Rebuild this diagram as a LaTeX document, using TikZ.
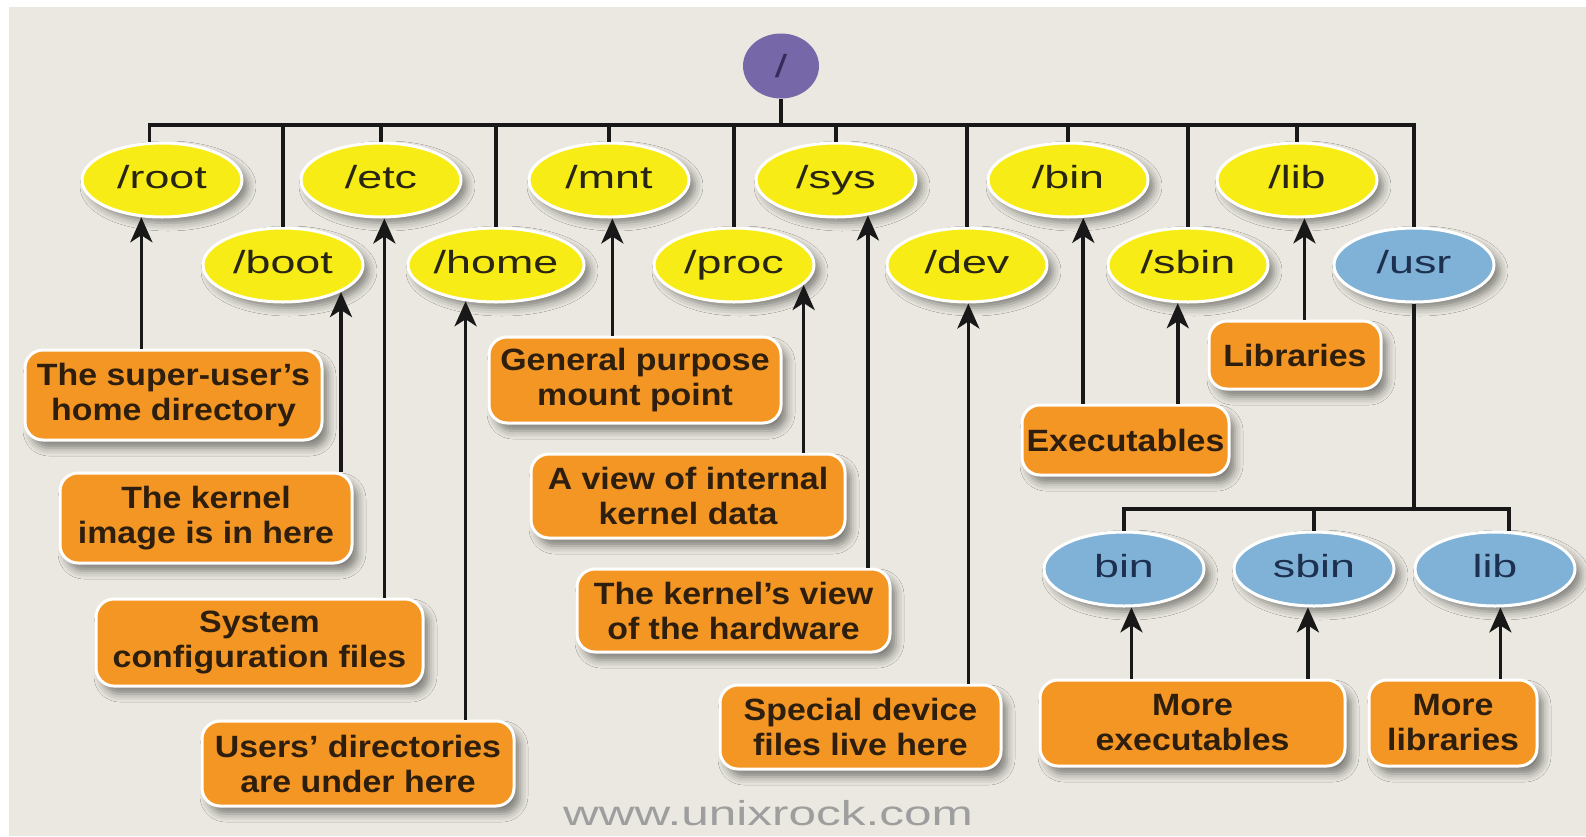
\documentclass[tikz,border=0pt]{standalone}
\usepackage{fontspec}
\setmainfont{Liberation Sans}
\newfontfamily\dirfont{Liberation Sans}[FakeStretch=1.4]
\newfontfamily\notefont{Liberation Sans}[FakeStretch=1.1]
\newfontfamily\webfont{Liberation Sans}[FakeStretch=1.43]
\usetikzlibrary{arrows.meta,shapes.geometric,shadows.blur}

\definecolor{paper}{RGB}{234,232,224}
\definecolor{dirYellow}{RGB}{248,236,22}
\definecolor{dirBlue}{RGB}{127,178,214}
\definecolor{rootPurple}{RGB}{118,104,168}
\definecolor{slashPurple}{RGB}{52,42,92}
\definecolor{noteOrange}{RGB}{244,150,36}
\definecolor{noteText}{RGB}{45,30,14}
\definecolor{dirText}{RGB}{40,38,18}
\definecolor{usrText}{RGB}{30,48,80}
\definecolor{wireCol}{RGB}{24,24,24}
\definecolor{webGray}{RGB}{158,158,158}

\begin{document}
\begin{tikzpicture}[
  x=0.5pt, y=-0.5pt,
  dir/.style={ellipse, fill=dirYellow, draw=white, line width=1.5pt,
    minimum width=80pt, minimum height=37pt, inner sep=0pt,
    font=\dirfont\fontsize{16pt}{19pt}\selectfont, text=dirText,
    text height=11.5pt, text depth=3.2pt,
    blur shadow={shadow xshift=3pt, shadow yshift=-3pt,
      shadow blur radius=4pt, shadow opacity=45}},
  usrdir/.style={dir, fill=dirBlue, text=usrText},
  note/.style={rectangle, rounded corners=9pt, fill=noteOrange,
    draw=white, line width=1.5pt, align=center, inner sep=0pt,
    font=\notefont\bfseries\fontsize{15.4pt}{17.5pt}\selectfont,
    text=noteText,
    blur shadow={shadow xshift=3pt, shadow yshift=-4pt,
      shadow blur radius=4pt, shadow opacity=45}},
  wire/.style={draw=wireCol, line width=1.8pt},
  arr/.style={wire, -{Stealth[length=12.5pt, width=11pt, inset=3.5pt]}}
]
% paper with a thin white margin on the top and left
\fill[white] (0,0) rectangle (1586,836);
\fill[paper] (9,7) rectangle (1586,836);
\useasboundingbox (0,0) rectangle (1586,836);

% the root of the tree
\node[ellipse, fill=rootPurple, minimum width=38pt, minimum height=32.5pt,
      inner sep=0pt, text=slashPurple,
      font=\dirfont\fontsize{16pt}{19pt}\selectfont] (top) at (781,66) {/};

% first-level directories, upper row
\node[dir] (nroot) at (162,180) {/root};
\node[dir] (netc)  at (381,180) {/etc};
\node[dir] (nmnt)  at (609,180) {/mnt};
\node[dir] (nsys)  at (836,180) {/sys};
\node[dir] (nbin)  at (1068,180) {/bin};
\node[dir] (nlib)  at (1297,180) {/lib};

% first-level directories, lower row
\node[dir] (nboot) at (283,265) {/boot};
\node[dir] (nhome) at (496,265) {/home};
\node[dir] (nproc) at (734,265) {/proc};
\node[dir] (ndev)  at (967,265) {/dev};
\node[dir] (nsbin) at (1188,265) {/sbin};
\node[usrdir] (nusr) at (1414,265) {/usr};

% directories under /usr
\node[usrdir] (ubin)  at (1124,569) {bin};
\node[usrdir] (usbin) at (1314,569) {sbin};
\node[usrdir] (ulib)  at (1495,569) {lib};

% descriptions
\node[note, minimum width=148.5pt, minimum height=45pt] (broot) at (173.5,395)
  {The super-user’s\\home directory};
\node[note, minimum width=146pt, minimum height=45pt] (bboot) at (206,518)
  {The kernel\\image is in here};
\node[note, minimum width=163.5pt, minimum height=43.5pt] (betc) at (259.5,642.5)
  {System\\configuration files};
\node[note, minimum width=156pt, minimum height=42.5pt] (bhome) at (358,763.5)
  {Users’ directories\\are under here};
\node[note, minimum width=146pt, minimum height=43pt] (bmnt) at (635,380)
  {General purpose\\mount point};
\node[note, minimum width=157pt, minimum height=42pt] (bproc) at (688,496)
  {A view of internal\\kernel data};
\node[note, minimum width=156.5pt, minimum height=41.5pt] (bsys) at (733.5,610.5)
  {The kernel’s view\\of the hardware};
\node[note, minimum width=140.5pt, minimum height=42pt] (bdev) at (860.5,727)
  {Special device\\files live here};
\node[note, minimum width=103.5pt, minimum height=35pt] (bexe) at (1125.5,440)
  {Executables};
\node[note, minimum width=86pt, minimum height=34pt] (blib) at (1295,355)
  {Libraries};
\node[note, minimum width=152.5pt, minimum height=43pt] (bmexe) at (1192.5,723)
  {More\\executables};
\node[note, minimum width=84pt, minimum height=43pt] (bmlib) at (1453,723)
  {More\\libraries};

% the bus below the root
\coordinate (bus) at (781,125);
\draw[wire] (top.south) -- (top.south |- bus);
\draw[wire] (nroot.108) -- (nroot.108 |- bus) -| (nusr.north);
\foreach \d in {netc,nmnt,nsys,nbin,nlib,nboot,nhome,nproc,ndev,nsbin}
  \draw[wire] (\d.north |- bus) -- (\d.north);

% the bus below /usr
\coordinate (subbus) at (1414,509);
\draw[wire] (nusr.south) -- (nusr.south |- subbus);
\draw[wire] (ubin.north) -- (ubin.north |- subbus) -| (ulib.70);
\draw[wire] (usbin.north |- subbus) -- (usbin.north);

% arrows from each description up to its directory
\draw[arr] (broot.north -| nroot.241) -- (nroot.241);
\draw[arr] (bboot.north -| nboot.335) -- (nboot.335);
\draw[arr] (betc.north  -| netc.275)  -- (netc.275);
\draw[arr] (bhome.north -| nhome.230) -- (nhome.230);
\draw[arr] (bmnt.north  -| nmnt.275)  -- (nmnt.275);
\draw[arr] (bproc.north -| nproc.344) -- (nproc.344);
\draw[arr] (bsys.north  -| nsys.312)  -- (nsys.312);
\draw[arr] (bdev.north  -| ndev.272)  -- (ndev.272);
\draw[arr] (bexe.north  -| nbin.292)  -- (nbin.292);
\draw[arr] (bexe.north  -| nsbin.255) -- (nsbin.255);
\draw[arr] (blib.north  -| nlib.281)  -- (nlib.281);
\draw[arr] (bmexe.north -| ubin.281)  -- (ubin.281);
\draw[arr] (bmexe.north -| usbin.261) -- (usbin.261);
\draw[arr] (bmlib.north -| ulib.278)  -- (ulib.278);

% site address
\node[anchor=base, inner sep=0pt, text=webGray,
      font=\webfont\fontsize{17.3pt}{20pt}\selectfont] (site) at (768,825)
  {www.unixrock.com};
\end{tikzpicture}
\end{document}
